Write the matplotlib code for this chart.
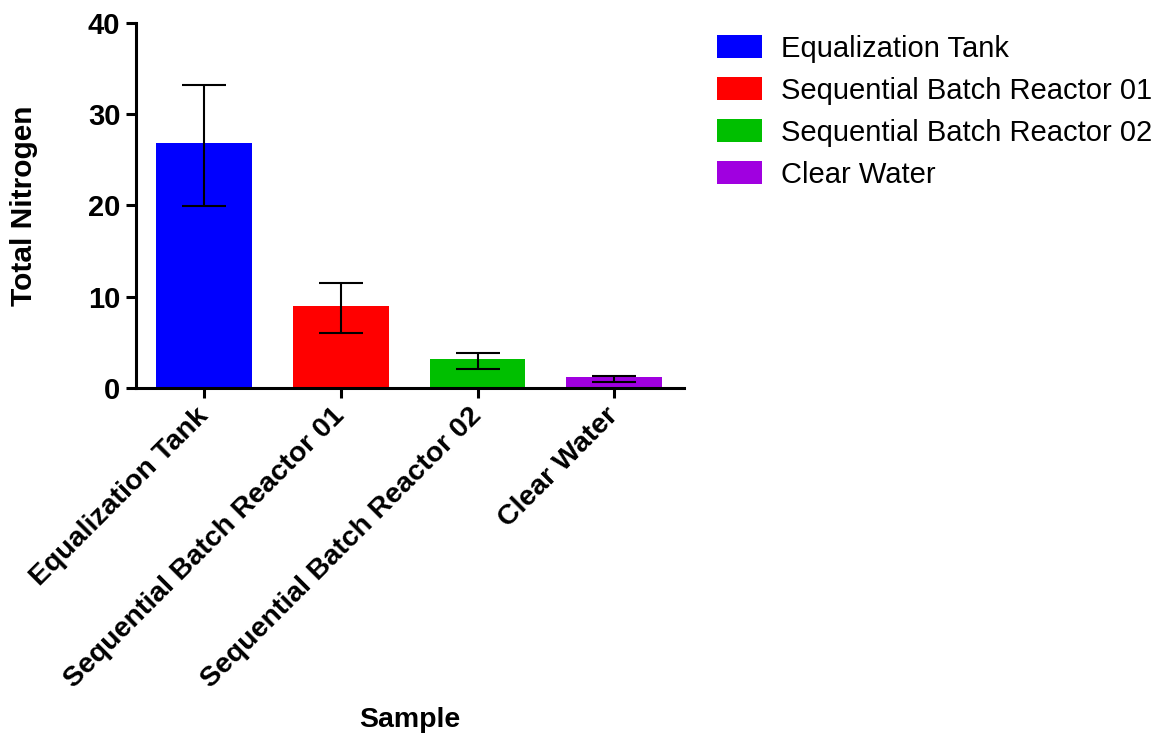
import matplotlib.pyplot as plt
import numpy as np

plt.rcParams['font.family'] = ['Liberation Sans', 'DejaVu Sans']

samples = ['Equalization Tank', 'Sequential Batch Reactor 01',
           'Sequential Batch Reactor 02', 'Clear Water']
total_n = [26.8, 9.05, 3.25, 1.25]
err_lower = [19.9, 6.0, 2.15, 0.66]
err_upper = [33.2, 11.5, 3.85, 1.36]
colors = ['#0000FF', '#FF0000', '#00BF00', '#A000E0']

x = np.arange(len(samples))
yerr = [np.array(total_n) - np.array(err_lower),
        np.array(err_upper) - np.array(total_n)]

fig = plt.figure(figsize=(11.75, 7.4), dpi=100)
ax = fig.add_axes([0.1155, 0.4753, 0.4666, 0.494])

bars = ax.bar(x, total_n, width=0.70, color=colors, label=samples, zorder=2)
ax.errorbar(x, total_n, yerr=yerr, fmt='none', ecolor='black',
            elinewidth=1.5, capsize=16, capthick=1.5, zorder=3)

ax.set_xlim(-0.5, 3.51)
ax.set_ylim(0, 40)
ax.set_yticks([0, 10, 20, 30, 40])
ax.set_xticks(x)
ax.set_xticklabels(samples, rotation=45, ha='right', va='center',
                   rotation_mode='anchor', fontsize=20.5, fontweight='bold')
ax.tick_params(axis='x', length=7, width=2.2, pad=10)
ax.tick_params(axis='y', length=7, width=2.2, pad=4, labelsize=21)
for lbl in ax.get_yticklabels():
    lbl.set_fontweight('bold')

for side in ['top', 'right']:
    ax.spines[side].set_visible(False)
for side in ['left', 'bottom']:
    ax.spines[side].set_linewidth(2.2)

ax.set_ylabel('Total Nitrogen', fontsize=21.5, fontweight='bold')
ax.yaxis.set_label_coords(-0.178, 0.5, transform=ax.transAxes)
fig.text(0.349, 1 - 720 / 740, 'Sample', fontsize=20.5, fontweight='bold',
         ha='center', va='center')

fig.legend(handles=bars, labels=samples, loc='upper left',
           bbox_to_anchor=(0.610, 0.953), bbox_transform=fig.transFigure,
           frameon=False, fontsize=21, handlelength=1.54, handleheight=0.82,
           handletextpad=0.65, labelspacing=0.48, borderpad=0, borderaxespad=0)

fig.savefig('out.png', dpi=100)
